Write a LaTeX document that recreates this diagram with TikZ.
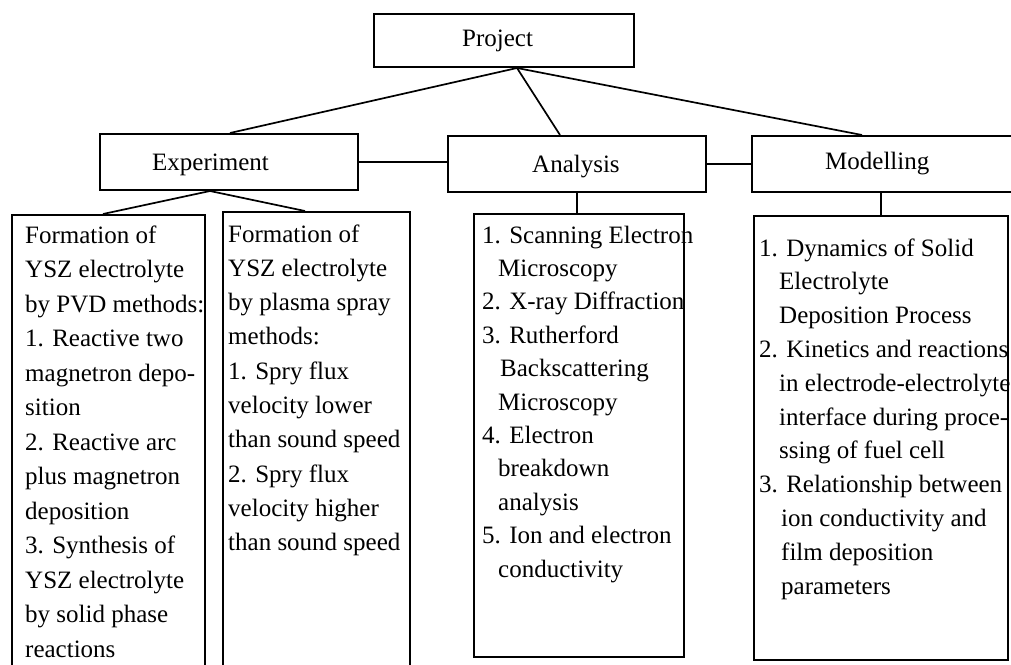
\documentclass[tikz,border=0pt]{standalone}
\usepackage{fontspec}
\setmainfont{Liberation Serif}
\begin{document}
\begin{tikzpicture}[x=1pt,y=-1pt,
  box/.style={draw, line width=2pt, inner sep=0pt, rectangle},
  conn/.style={line width=1.7pt},
  lbl/.style={inner sep=0pt, anchor=base west, font=\fontsize{25}{30}\selectfont},
  txt/.style={inner sep=0pt, anchor=base west, align=left},
]
\useasboundingbox (0,0) rectangle (1011,664);
% top level boxes
\node[box, minimum width=260pt, minimum height=53pt] (proj) at (504,40.5) {};
\node[box, minimum width=258pt, minimum height=56pt] (exp) at (229,162) {};
\node[box, minimum width=258pt, minimum height=56pt] (ana) at (577,164) {};
\node[box, minimum width=266pt, minimum height=56pt] (mod) at (885,164) {};
% lower boxes
\node[box, minimum width=193pt, minimum height=465pt] (b1) at (108.5,447.5) {};
\node[box, minimum width=187pt, minimum height=468pt] (b2) at (316.5,446) {};
\node[box, minimum width=210pt, minimum height=443pt] (b3) at (579,435.5) {};
\node[box, minimum width=254pt, minimum height=444pt] (b4) at (881,438) {};
% labels
\node[lbl] (projt) at (462,46) {Project};
\node[lbl] (expt) at (152,170) {Experiment};
\node[lbl] (anat) at (532,172) {Analysis};
\node[lbl] (modt) at (825,169) {Modelling};
% connectors
\draw[conn] ([xshift=13pt]proj.south) -- ([xshift=1pt]exp.north);
\draw[conn] ([xshift=13pt]proj.south) -- ([xshift=-17pt]ana.north);
\draw[conn] ([xshift=13pt]proj.south) -- ([xshift=-23pt]mod.north);
\draw[conn] (exp.east) -- (exp.east -| ana.west);
\draw[conn] (ana.east) -- (mod.west);
\draw[conn] ([xshift=-19pt]exp.south) -- ([xshift=-5.5pt]b1.north);
\draw[conn] ([xshift=-19pt]exp.south) -- ([xshift=-11.5pt]b2.north);
\draw[conn] (ana.south) -- (ana.south |- b3.north);
\draw[conn] (b4.north |- mod.south) -- (b4.north);
% texts (anchored at the baseline of the last line)
\node[txt, font=\fontsize{25}{34.5}\selectfont] (t1) at (25,657) {Formation of\\YSZ electrolyte\\by PVD methods:\\1. Reactive two\\magnetron depo-\\sition\\2. Reactive arc\\plus magnetron\\deposition\\3. Synthesis of\\YSZ electrolyte\\by solid phase\\reactions};
\node[txt, font=\fontsize{25}{34.3}\selectfont] (t2) at (228,550.7) {Formation of\\YSZ electrolyte\\by plasma spray\\methods:\\1. Spry flux\\velocity lower\\than sound speed\\2. Spry flux\\velocity higher\\than sound speed};
\node[txt, font=\fontsize{25}{33.4}\selectfont] (t3) at (482,577) {1. Scanning Electron\\\hspace*{16pt}Microscopy\\2. X-ray Diffraction\\3. Rutherford\\\hspace*{18pt}Backscattering\\\hspace*{16pt}Microscopy\\4. Electron\\\hspace*{16pt}breakdown\\\hspace*{16pt}analysis\\5. Ion and electron\\\hspace*{16pt}conductivity};
\node[txt, font=\fontsize{25}{33.8}\selectfont] (t4) at (759,594) {1. Dynamics of Solid\\\hspace*{20pt}Electrolyte\\\hspace*{20pt}Deposition Process\\2. Kinetics and reactions\\\hspace*{20pt}in electrode-electrolyte\\\hspace*{20pt}interface during proce-\\\hspace*{20pt}ssing of fuel cell\\3. Relationship between\\\hspace*{22pt}ion conductivity and\\\hspace*{22pt}film deposition\\\hspace*{22pt}parameters};
\end{tikzpicture}
\end{document}
